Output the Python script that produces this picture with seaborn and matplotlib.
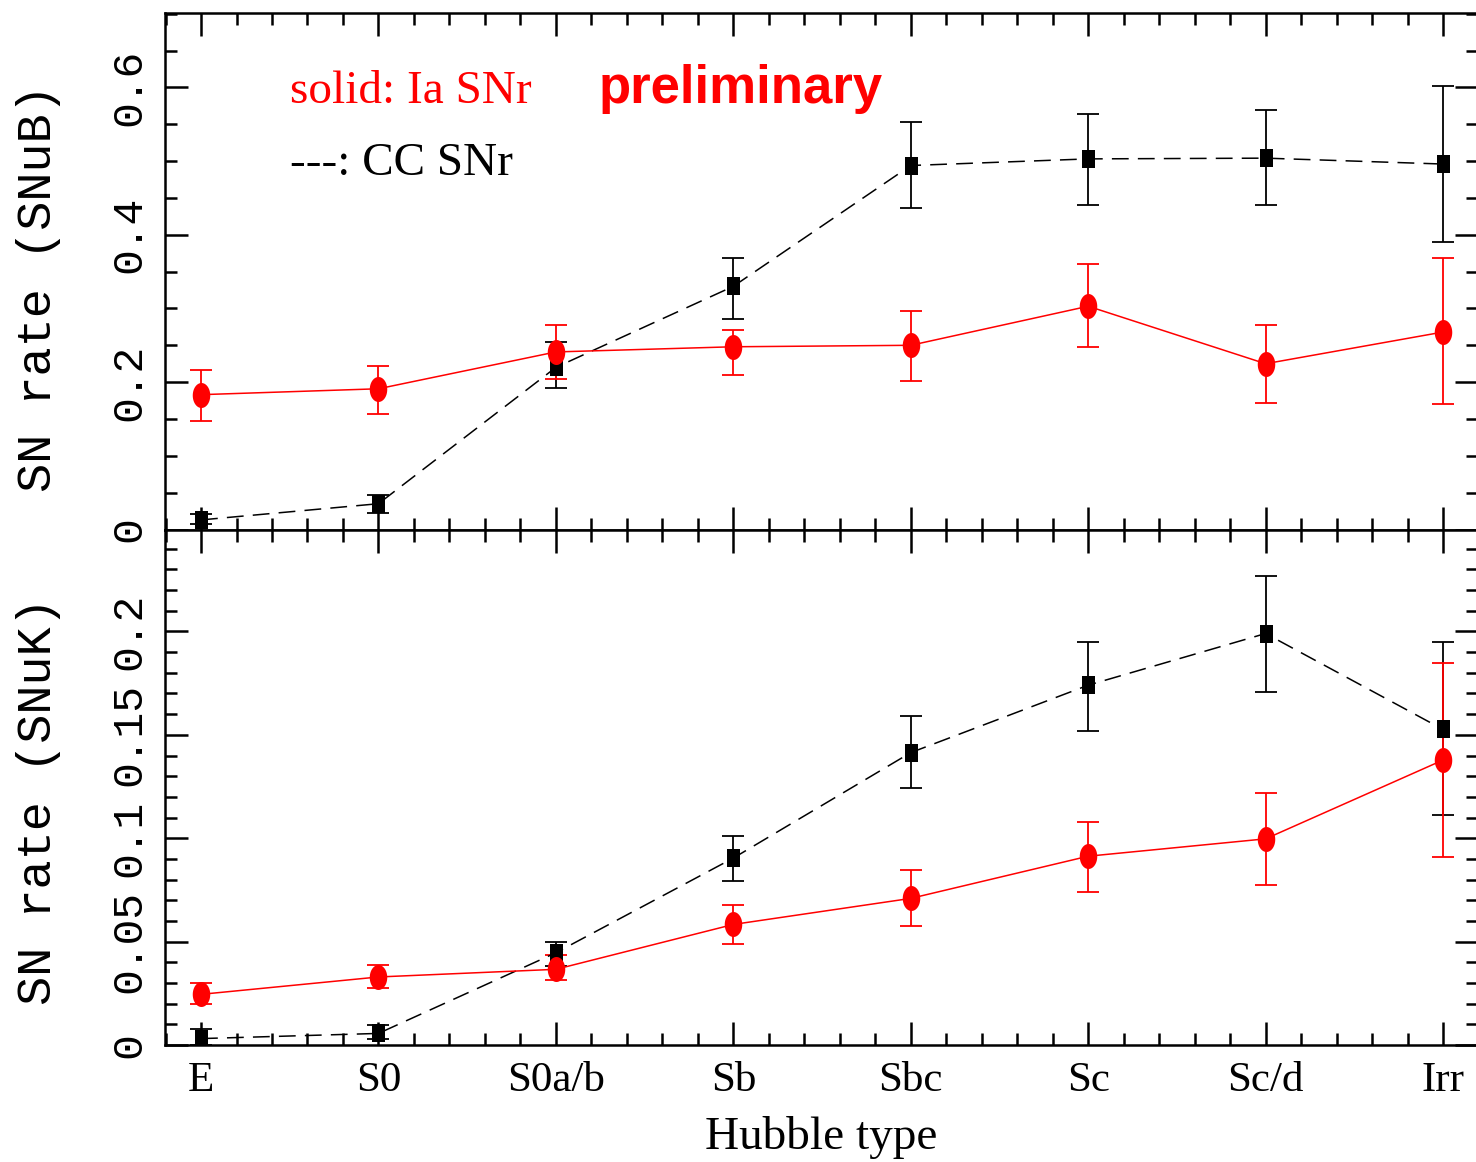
import numpy as np
import pandas as pd
import matplotlib
matplotlib.use("Agg")
import matplotlib.pyplot as plt
from matplotlib.path import Path
from matplotlib.ticker import MultipleLocator, FuncFormatter, FixedLocator
import seaborn as sns

# ---------------- data ----------------
hubble_types = ["E", "S0", "S0a/b", "Sb", "Sbc", "Sc", "Sc/d", "Irr"]

# SNuB panel
snub_ia = [0.183, 0.191, 0.241, 0.248, 0.250, 0.303, 0.225, 0.268]
snub_ia_lo = [0.147, 0.157, 0.204, 0.210, 0.202, 0.248, 0.172, 0.170]
snub_ia_hi = [0.217, 0.222, 0.278, 0.271, 0.296, 0.360, 0.277, 0.368]
snub_cc = [0.013, 0.035, 0.220, 0.330, 0.494, 0.503, 0.504, 0.496]
snub_cc_lo = [0.008, 0.023, 0.192, 0.286, 0.436, 0.440, 0.440, 0.390]
snub_cc_hi = [0.021, 0.047, 0.255, 0.369, 0.553, 0.564, 0.570, 0.602]

# SNuK panel
snuk_ia = [0.0245, 0.0329, 0.0366, 0.0583, 0.0709, 0.0913, 0.0997, 0.1378]
snuk_ia_lo = [0.0196, 0.0277, 0.0314, 0.0490, 0.0576, 0.0739, 0.0774, 0.0910]
snuk_ia_hi = [0.0300, 0.0388, 0.0435, 0.0676, 0.0847, 0.1080, 0.1218, 0.1845]
snuk_cc = [0.0031, 0.0056, 0.0446, 0.0904, 0.1414, 0.1740, 0.1990, 0.1526]
snuk_cc_lo = [0.0000, 0.0030, 0.0380, 0.0793, 0.1242, 0.1520, 0.1706, 0.1110]
snuk_cc_hi = [0.0075, 0.0095, 0.0496, 0.1010, 0.1589, 0.1950, 0.2270, 0.1950]

panel_ylabels = ["SN rate (SNuB)", "SN rate (SNuK)"]
xlabel_text = "Hubble type"
legend_ia = "solid: Ia SNr"
legend_cc = "---: CC SNr"
note_text = "preliminary"

# ---------------- style ----------------
sns.set_style("ticks")
plt.rcParams["font.family"] = ["DejaVu Sans"]
plt.rcParams.update({
    "text.color": "black", "axes.labelcolor": "black", "axes.edgecolor": "black",
    "xtick.color": "black", "ytick.color": "black",
})

W, H = 1476, 1162
fig = plt.figure(figsize=(W / 100, H / 100), dpi=100)

left = 165 / W
right = 1478 / W
top_panel = [left, (H - 529.5) / H, right - left, (529.5 - 13) / H]
bot_panel = [left, (H - 1045) / H, right - left, (1045 - 529.5) / H]
ax_top = fig.add_axes(top_panel)
ax_bot = fig.add_axes(bot_panel)

xpos = np.arange(len(hubble_types))

theta = np.linspace(0, 2 * np.pi, 60)
ellipse_marker = Path(np.column_stack([0.35 * np.cos(theta), 0.5 * np.sin(theta)]), closed=True)
rect_marker = Path([(-0.36, -0.5), (0.36, -0.5), (0.36, 0.5), (-0.36, 0.5), (-0.36, -0.5)], closed=True)

serif = ["Liberation Serif", "DejaVu Serif"]
mono = ["Liberation Mono", "DejaVu Sans Mono"]


def draw_panel(ax, ia, ia_lo, ia_hi, cc, cc_lo, cc_hi):
    df = pd.DataFrame({"x": xpos, "ia": ia, "cc": cc})
    ia = np.array(ia); cc = np.array(cc)
    ax.errorbar(xpos, cc, yerr=[cc - np.array(cc_lo), np.array(cc_hi) - cc], fmt="none",
                ecolor="black", elinewidth=1.3, capsize=8, capthick=1.3, zorder=2)
    ax.errorbar(xpos, ia, yerr=[ia - np.array(ia_lo), np.array(ia_hi) - ia], fmt="none",
                ecolor="#ff0000", elinewidth=1.3, capsize=8, capthick=1.3, zorder=2)
    sns.lineplot(data=df, x="x", y="cc", ax=ax, color="black", linewidth=1.1,
                 linestyle="--", marker=rect_marker, markersize=13, markeredgewidth=0,
                 zorder=3)
    ax.lines[-1].set_dashes((11, 6))
    sns.lineplot(data=df, x="x", y="ia", ax=ax, color="#ff0000", linewidth=1.1,
                 marker=ellipse_marker, markersize=18, markeredgewidth=0, zorder=4)


draw_panel(ax_top, snub_ia, snub_ia_lo, snub_ia_hi, snub_cc, snub_cc_lo, snub_cc_hi)
draw_panel(ax_bot, snuk_ia, snuk_ia_lo, snuk_ia_hi, snuk_cc, snuk_cc_lo, snuk_cc_hi)

ax_top.set_ylim(0, 0.701)
ax_bot.set_ylim(0, 0.2493)
for ax in (ax_top, ax_bot):
    ax.set_xlim(-0.203, 7.197)
    ax.xaxis.set_major_locator(FixedLocator(xpos))
    ax.xaxis.set_minor_locator(MultipleLocator(0.2))
    for s in ax.spines.values():
        s.set_linewidth(1.8)
        s.set_color("black")
        s.set_visible(True)
    ax.tick_params(which="both", direction="in", top=True, right=True, width=1.8,
                   color="black", labelcolor="black")
    ax.tick_params(which="major", length=16.5)
    ax.tick_params(which="minor", length=8.5)
    ax.yaxis.set_major_formatter(FuncFormatter(lambda v, p: "%g" % round(v, 3)))
    ax.set_ylabel("")
    ax.set_xlabel("")

ax_top.yaxis.set_major_locator(MultipleLocator(0.2))
ax_top.yaxis.set_minor_locator(MultipleLocator(0.05))
ax_bot.yaxis.set_major_locator(MultipleLocator(0.05))
ax_bot.yaxis.set_minor_locator(MultipleLocator(0.01))

ax_top.set_xticklabels([])
ax_bot.set_xticks(xpos)
ax_bot.set_xticklabels(hubble_types, family=serif, fontsize=31, color="black")
ax_bot.tick_params(axis="x", which="major", pad=12)

for ax, lab, ly in zip((ax_top, ax_bot), panel_ylabels, (0.468, 0.473)):
    ax.tick_params(axis="y", which="major", pad=11)
    for t in ax.get_yticklabels():
        t.set_rotation(90)
        t.set_va("center")
        t.set_family(mono)
        t.set_fontsize(31)
        t.set_color("black")
    ax.set_ylabel(lab, family=mono, fontsize=35, color="black")
    ax.yaxis.set_label_coords(-0.079, ly)

ax_bot.set_xlabel(xlabel_text, family=serif, fontsize=34, color="black")
ax_bot.xaxis.set_label_coords(0.5, -0.138)
ax_bot.xaxis.label.set_va("top")

ax_top.text(0.0952, 0.826, legend_ia, transform=ax_top.transAxes, color="#ff0000",
            family=serif, fontsize=34, va="baseline", ha="left")
ax_top.text(0.0952, 0.686, legend_cc, transform=ax_top.transAxes, color="black",
            family=serif, fontsize=34, va="baseline", ha="left")
ax_top.text(0.330, 0.826, note_text, transform=ax_top.transAxes, color="#ff0000",
            family=["Liberation Sans", "DejaVu Sans"], fontweight="bold", fontsize=38,
            va="baseline", ha="left")

fig.savefig("out.png", dpi=100)
